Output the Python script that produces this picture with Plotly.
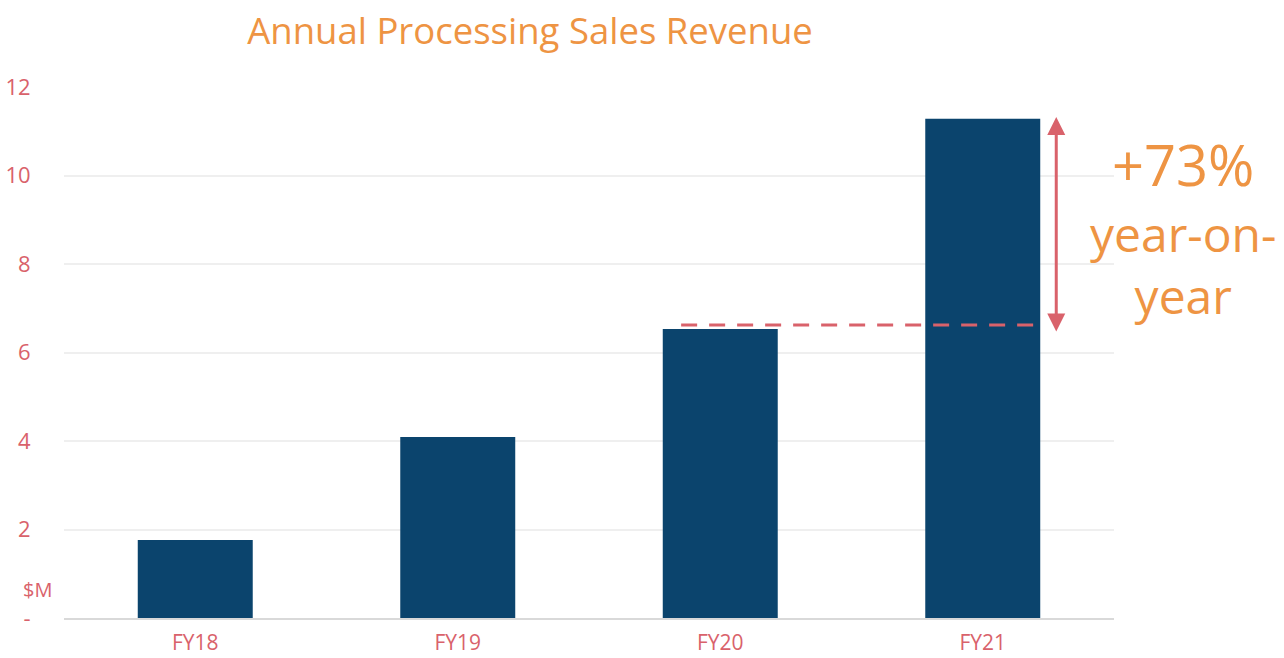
import plotly.graph_objects as go

categories = ["FY18", "FY19", "FY20", "FY21"]
revenue = [1.76, 4.09, 6.53, 11.28]
y_tick_vals = [0, 2, 4, 6, 8, 10, 12]
y_tick_text = ["-", "2", "4", "6", "8", "10", "12"]
baseline_level = 6.62
growth_label = "+73%"

BAR = "#0b446d"
RED = "#d9626b"
ORANGE = "#ee9443"
LABEL_FONT = "Open Sans"

W, H = 1284, 658
L, R, T, B = 64, 170, 87, 40
pw, ph = W - L - R, H - T - B

fig = go.Figure()
fig.add_trace(go.Bar(x=list(range(len(categories))), y=revenue, marker_color=BAR,
                     marker_line_width=0, width=0.438))

fig.update_layout(
    width=W, height=H,
    margin=dict(l=L, r=R, t=T, b=B),
    paper_bgcolor="white", plot_bgcolor="white",
    showlegend=False,
    title=dict(text="Annual Processing Sales Revenue", x=(530 - L) / pw, xanchor="center",
               y=1 - 31/658, yanchor="middle", xref="paper",
               font=dict(family="Open Sans", size=36.5, color=ORANGE)),
    xaxis=dict(tickmode="array", tickvals=list(range(len(categories))), ticktext=categories,
               range=[-0.5, 3.5], showgrid=False, showline=True, linecolor="#d9d9d9", linewidth=2,
               tickfont=dict(family=LABEL_FONT, size=21, color=RED), ticks="outside",
               ticklen=5, tickcolor="rgba(0,0,0,0)", automargin=False),
    yaxis=dict(range=[0, 12], tickmode="array", tickvals=y_tick_vals, ticktext=y_tick_text,
               showgrid=True, gridcolor="#efefef", gridwidth=2, zeroline=False,
               tickfont=dict(family=LABEL_FONT, size=22, color=RED),
               ticks="outside", ticklen=28, tickcolor="rgba(0,0,0,0)", automargin=False),
)

# dashed reference line at previous year level
fig.add_shape(type="line", xref="x", yref="y", x0=1.851, x1=3.2,
              y0=baseline_level, y1=baseline_level,
              line=dict(color=RED, width=3, dash="16px,12px"))

# double arrow
fig.add_annotation(x=3.28, y=revenue[3] + 0.04, ax=3.28, ay=baseline_level - 0.18,
                   xref="x", yref="y", axref="x", ayref="y", text="",
                   showarrow=True, arrowhead=2, startarrowhead=2, arrowside="end+start",
                   arrowwidth=3, arrowsize=1.2, startarrowsize=1.2, arrowcolor=RED)

fig.add_annotation(x=1183, y=164, xref="paper", yref="paper", text=growth_label,
                   showarrow=False, font=dict(family=LABEL_FONT, size=56, color=ORANGE),
                   xanchor="center", yanchor="middle")
fig.add_annotation(x=1183, y=264, xref="paper", yref="paper", text="year-on-<br>year",
                   showarrow=False, font=dict(family=LABEL_FONT, size=48, color=ORANGE),
                   xanchor="center", yanchor="middle")
fig.add_annotation(x=37, y=589, xref="paper", yref="paper", text="$M",
                   showarrow=False, font=dict(family=LABEL_FONT, size=20, color=RED),
                   xanchor="center", yanchor="middle", borderpad=0)

# convert pixel-positioned paper annotations
for a in fig.layout.annotations:
    if a.xref == "paper":
        a.x = (a.x - L) / pw
        a.y = 1 - (a.y - T) / ph

fig.write_html("out.html")
